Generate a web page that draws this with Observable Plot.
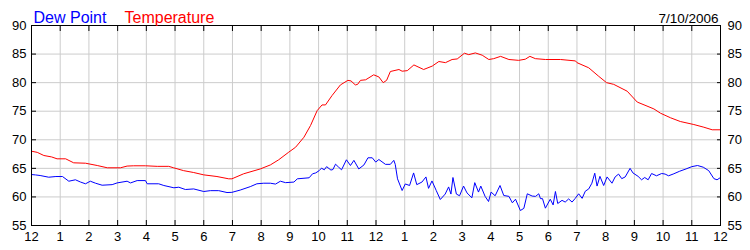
<!DOCTYPE html>
<html>
<head>
<meta charset="utf-8">
<script src="https://cdn.jsdelivr.net/npm/d3@7"></script>
<script src="https://cdn.jsdelivr.net/npm/@observablehq/plot@0.6"></script>
<style>
  html, body { margin: 0; padding: 0; background: #ffffff; }
  #chart { width: 750px; height: 250px; }
</style>
</head>
<body>
<div id="chart"></div>
<script>
// Hour of day (0 = midnight) and value (°F)
const tempHour = [0, 0.2, 0.43, 0.7, 0.89, 1.19, 1.47, 1.88, 2.29, 2.64, 3.1, 3.33, 3.56, 3.97, 4.38, 4.78, 4.95, 5.3, 5.65, 6.0, 6.46, 6.87, 6.98, 7.39, 7.97, 8.32, 8.61, 8.96, 9.2, 9.49, 9.72, 9.95, 10.12, 10.24, 10.47, 10.76, 11.02, 11.13, 11.28, 11.36, 11.46, 11.64, 11.92, 12.1, 12.25, 12.37, 12.5, 12.8, 12.91, 13.09, 13.32, 13.66, 13.96, 14.19, 14.42, 14.65, 14.83, 15.08, 15.23, 15.46, 15.7, 15.93, 16.1, 16.34, 16.63, 16.97, 17.2, 17.36, 17.55, 17.9, 18.43, 18.95, 19.0, 19.41, 19.76, 20.03, 20.28, 20.75, 21.1, 21.44, 21.68, 21.91, 22.26, 22.6, 23.07, 23.42, 23.71, 24.0];
const tempF = [68.0, 67.8, 67.25, 67.0, 66.67, 66.67, 65.97, 65.9, 65.5, 65.1, 65.1, 65.4, 65.45, 65.45, 65.35, 65.35, 65.1, 64.6, 64.27, 63.86, 63.57, 63.17, 63.17, 64.05, 64.9, 65.6, 66.5, 67.83, 68.7, 70.45, 72.5, 75.1, 76.1, 76.1, 77.75, 79.6, 80.4, 80.3, 79.6, 79.7, 80.4, 80.5, 81.37, 81.0, 80.0, 80.4, 81.95, 82.3, 82.0, 82.1, 83.1, 82.3, 82.9, 83.7, 83.5, 84.05, 84.15, 85.15, 84.9, 85.2, 84.8, 84.05, 84.2, 84.6, 84.05, 83.9, 84.1, 84.6, 84.2, 84.05, 84.05, 83.8, 83.5, 82.6, 81.1, 80.0, 79.7, 78.5, 76.6, 75.9, 75.4, 74.65, 73.85, 73.2, 72.67, 72.2, 71.75, 71.75];

const dewHour = [0, 0.14, 0.3, 0.6, 0.85, 1.08, 1.3, 1.53, 1.71, 1.88, 2.05, 2.23, 2.46, 2.81, 2.98, 3.33, 3.45, 3.68, 3.97, 4.03, 4.43, 4.61, 4.96, 5.13, 5.36, 5.65, 6.0, 6.23, 6.52, 6.81, 6.98, 7.27, 7.62, 7.85, 8.09, 8.32, 8.5, 8.67, 8.85, 9.14, 9.26, 9.67, 9.79, 9.9, 10.02, 10.1, 10.2, 10.28, 10.43, 10.5, 10.59, 10.7, 10.8, 10.97, 11.11, 11.23, 11.4, 11.58, 11.72, 11.87, 11.99, 12.1, 12.33, 12.5, 12.62, 12.67, 12.75, 12.91, 13.02, 13.17, 13.31, 13.42, 13.6, 13.74, 13.83, 13.95, 14.1, 14.24, 14.41, 14.53, 14.61, 14.68, 14.8, 14.91, 15.05, 15.17, 15.34, 15.44, 15.57, 15.65, 15.8, 15.92, 16.01, 16.15, 16.32, 16.45, 16.63, 16.75, 16.86, 17.03, 17.15, 17.27, 17.44, 17.56, 17.67, 17.73, 17.8, 17.9, 18.07, 18.17, 18.25, 18.33, 18.48, 18.59, 18.71, 18.83, 18.94, 19.06, 19.18, 19.29, 19.41, 19.52, 19.62, 19.7, 19.8, 19.93, 20.05, 20.22, 20.33, 20.45, 20.56, 20.68, 20.85, 20.95, 21.13, 21.25, 21.36, 21.48, 21.6, 21.77, 21.95, 22.07, 22.19, 22.35, 22.58, 22.8, 23.0, 23.2, 23.4, 23.59, 23.77, 23.88, 24.0];
const dewF = [63.92, 63.85, 63.75, 63.45, 63.57, 63.57, 62.75, 63.0, 62.6, 62.3, 62.75, 62.4, 62.05, 62.15, 62.45, 62.75, 62.45, 62.86, 62.86, 62.3, 62.3, 62.0, 61.6, 61.7, 61.3, 61.4, 60.95, 61.1, 61.1, 60.77, 60.8, 61.2, 61.8, 62.3, 62.4, 62.4, 62.25, 62.75, 62.5, 62.6, 63.17, 63.35, 64.05, 64.2, 64.6, 65.03, 64.75, 65.3, 64.7, 64.8, 65.73, 65.2, 64.75, 66.5, 65.5, 66.4, 64.9, 65.6, 66.85, 66.85, 66.1, 66.55, 65.7, 65.7, 66.4, 65.7, 63.17, 61.12, 62.27, 62.0, 64.2, 62.15, 62.6, 63.5, 61.5, 62.8, 61.1, 59.55, 60.5, 61.75, 60.5, 63.4, 60.5, 60.2, 61.9, 60.7, 59.85, 62.5, 60.85, 61.9, 60.1, 59.2, 60.85, 60.2, 62.0, 60.25, 60.1, 58.97, 59.6, 57.62, 58.0, 60.55, 60.15, 60.1, 60.55, 59.7, 59.7, 58.03, 59.6, 58.6, 60.95, 58.85, 59.4, 59.1, 59.65, 59.1, 59.75, 60.55, 59.75, 61.0, 61.4, 62.4, 64.15, 61.9, 63.6, 62.0, 63.5, 62.4, 63.5, 64.0, 63.2, 63.5, 65.0, 64.2, 63.6, 63.0, 63.4, 63.0, 64.1, 63.7, 64.1, 64.0, 63.7, 64.0, 64.5, 64.9, 65.3, 65.5, 65.2, 64.6, 63.2, 63.0, 63.4];

const xTicks = [0, 1, 2, 3, 4, 5, 6, 7, 8, 9, 10, 11, 12, 13, 14, 15, 16, 17, 18, 19, 20, 21, 22, 23, 24];
const xTickLabels = ["12", "1", "2", "3", "4", "5", "6", "7", "8", "9", "10", "11", "12", "1", "2", "3", "4", "5", "6", "7", "8", "9", "10", "11", "12"];
const yTicks = [55, 60, 65, 70, 75, 80, 85, 90];
const seriesNames = ["Dew Point", "Temperature"];
const dateLabel = "7/10/2006";

const temperature = tempHour.map((h, i) => ({hour: h, value: tempF[i]}));
const dewPoint = dewHour.map((h, i) => ({hour: h, value: dewF[i]}));

const RED = "#ff0000", BLUE = "#0000ff", GRID = "#cccccc";

const chart = Plot.plot({
  width: 750,
  height: 250,
  marginLeft: 31,
  marginRight: 30,
  marginTop: 25,
  marginBottom: 25,
  style: {fontFamily: "'Liberation Sans', Arial, sans-serif", fontSize: "13px", background: "#ffffff", color: "#000000", overflow: "visible"},
  x: {domain: [0, 24]},
  y: {domain: [55, 90]},
  marks: [
    Plot.gridX(xTicks, {stroke: GRID, strokeOpacity: 1}),
    Plot.gridY(yTicks, {stroke: GRID, strokeOpacity: 1}),
    Plot.line(temperature, {x: "hour", y: "value", stroke: RED, strokeWidth: 1}),
    Plot.line(dewPoint, {x: "hour", y: "value", stroke: BLUE, strokeWidth: 1}),
    Plot.frame({stroke: "#000000"}),
    Plot.axisX(xTicks, {anchor: "bottom", tickSize: -5, tickPadding: 11, tickFormat: (d, i) => xTickLabels[i], label: null, fontSize: 13}),
    Plot.axisX(xTicks, {anchor: "top", tickSize: -5, fill: "none", label: null}),
    Plot.axisY(yTicks, {anchor: "left", tickSize: -5, tickPadding: 10, label: null, fontSize: 13}),
    Plot.axisY(yTicks, {anchor: "right", tickSize: -4, tickPadding: 11, label: null, fontSize: 13}),
    Plot.text([seriesNames[0]], {frameAnchor: "top-left", dx: 2, dy: -3, lineAnchor: "bottom", textAnchor: "start", fill: BLUE, fontSize: 16}),
    Plot.text([seriesNames[1]], {frameAnchor: "top-left", dx: 93, dy: -3, lineAnchor: "bottom", textAnchor: "start", fill: RED, fontSize: 16}),
    Plot.text([dateLabel], {frameAnchor: "top-right", dx: -2, dy: -3, lineAnchor: "bottom", textAnchor: "end", fill: "#000000", fontSize: 13.5})
  ]
});
document.getElementById("chart").appendChild(chart);
</script>
</body>
</html>
